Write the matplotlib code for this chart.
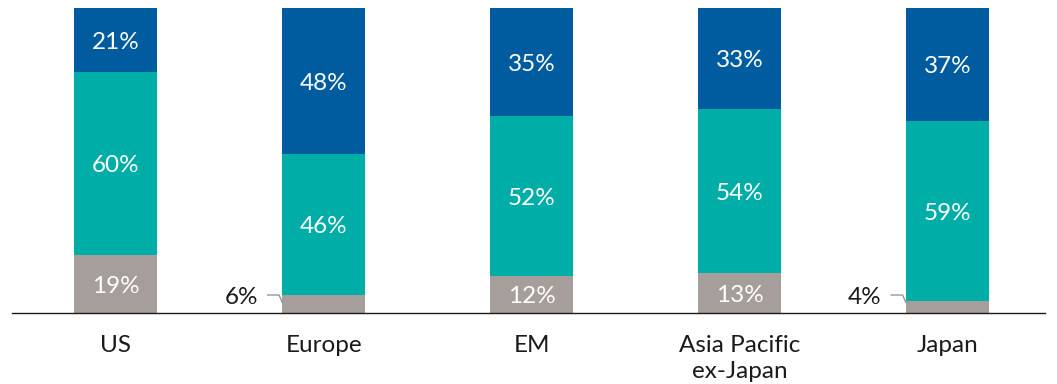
import matplotlib.pyplot as plt
import numpy as np

plt.rcParams['font.family'] = ['Lato', 'DejaVu Sans']

categories = ['US', 'Europe', 'EM', 'Asia Pacific\nex-Japan', 'Japan']
gray_vals = [19, 6, 12, 13, 4]
teal_vals = [60, 46, 52, 54, 59]
blue_vals = [21, 48, 35, 33, 37]

GRAY = '#A59E9A'
TEAL = '#00ADA7'
BLUE = '#005C9E'

fig = plt.figure(figsize=(10.57, 3.84), dpi=100)
ax = fig.add_axes([12 / 1057, 71 / 384, 1033 / 1057, 305 / 384])

x = np.arange(len(categories))
w = 0.4
gray = np.array(gray_vals, dtype=float)
teal = np.array(teal_vals, dtype=float)
blue = np.array(blue_vals, dtype=float)
# bars fill the full 100% even where rounded shares don't sum to 100
tot = gray + teal + blue
g_h, t_h, b_h = gray / tot * 100, teal / tot * 100, blue / tot * 100

ax.bar(x, g_h, w, color=GRAY)
ax.bar(x, t_h, w, bottom=g_h, color=TEAL)
ax.bar(x, b_h, w, bottom=g_h + t_h, color=BLUE)

fs = 17.5
dy = -0.8  # nudge labels a touch lower, like the original
for i in range(len(x)):
    # small grey segments get an outside label with a leader line
    if gray[i] >= 8:
        ax.text(x[i], g_h[i] / 2 + dy, f'{gray_vals[i]}%', ha='center',
                va='center', color='white', fontsize=fs)
    else:
        left = x[i] - w / 2
        ax.plot([left - 0.07, left - 0.015, left], [5.9, 5.9, 3.5],
                color='#8c8c8c', lw=0.9, clip_on=False)
        ax.text(left - 0.115, 5.2, f'{gray_vals[i]}%', ha='right', va='center',
                color='#1a1a1a', fontsize=fs)
    ax.text(x[i], g_h[i] + t_h[i] / 2 + dy, f'{teal_vals[i]}%', ha='center',
            va='center', color='white', fontsize=fs)
    ax.text(x[i], g_h[i] + t_h[i] + b_h[i] / 2 + dy, f'{blue_vals[i]}%',
            ha='center', va='center', color='white', fontsize=fs)

ax.set_xlim(-0.5, 4.47)
ax.set_ylim(0, 100)
ax.set_xticks(x)
ax.set_xticklabels(categories, fontsize=fs, color='#1a1a1a', linespacing=1.3)
ax.tick_params(axis='x', length=0, pad=16)
ax.set_yticks([])
for s in ['top', 'right', 'left']:
    ax.spines[s].set_visible(False)
ax.spines['bottom'].set_color('#1a1a1a')
ax.spines['bottom'].set_linewidth(1.0)

fig.savefig('out.png', dpi=100)
